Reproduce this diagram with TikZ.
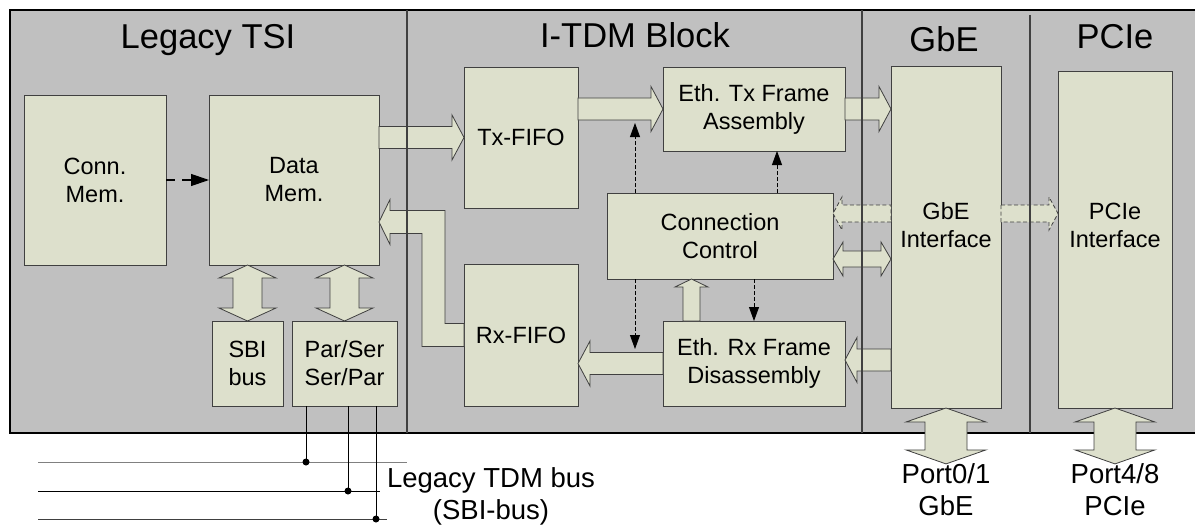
\documentclass[tikz,border=0pt]{standalone}
\usepackage{fontspec}
\setmainfont{Liberation Sans}
\usetikzlibrary{arrows.meta, calc}
\definecolor{framegray}{RGB}{192,192,192}
\definecolor{boxfill}{RGB}{221,224,204}
\definecolor{edgegray}{RGB}{64,64,64}

\begin{document}
\begin{tikzpicture}[
  x=1pt, y=-1pt,
    box/.style={
        draw=edgegray,
        fill=boxfill,
        line width=0.8pt,
        inner sep=0pt,
        outer sep=0pt,
        align=center,
        font=\fontsize{23.5}{28}\selectfont
    },
    plain/.style={
        inner sep=0pt,
        align=center,
        font=\fontsize{23.5}{28}\selectfont
    },
    title/.style={
        anchor=base,
        font=\fontsize{34.5}{40}\selectfont
    },
    port/.style={
        inner sep=0pt,
        outer sep=0pt,
        align=center,
        font=\fontsize{27.5}{32}\selectfont
    },
    divider/.style={
        draw=edgegray,
        line width=1.2pt
    },
    ctl/.style={
        -{Triangle[length=14pt, width=10pt]},
        line width=0.8pt,
        dash pattern=on 4pt off 2pt
    },
    busline/.style={
        line width=1pt
    },
    % block arrow: shaft half width, head half width, head length
    blk/.style n args={3}{
        draw=edgegray, fill=boxfill, line width=0.8pt,
        to path={let \p1=(\tikztostart), \p2=(\tikztotarget),
          \n1={veclen(\x2-\x1,\y2-\y1)}, \n2={(\x2-\x1)/\n1}, \n3={(\y2-\y1)/\n1} in
          ({\x1-#1*\n3},{\y1+#1*\n2})
          -- ({\x1+(\n1-#3)*\n2-#1*\n3},{\y1+(\n1-#3)*\n3+#1*\n2})
          -- ({\x1+(\n1-#3)*\n2-#2*\n3},{\y1+(\n1-#3)*\n3+#2*\n2})
          -- (\x2,\y2)
          -- ({\x1+(\n1-#3)*\n2+#2*\n3},{\y1+(\n1-#3)*\n3-#2*\n2})
          -- ({\x1+(\n1-#3)*\n2+#1*\n3},{\y1+(\n1-#3)*\n3-#1*\n2})
          -- ({\x1+#1*\n3},{\y1-#1*\n2}) -- cycle}
    },
    % double block arrow
    dblk/.style n args={3}{
        draw=edgegray, fill=boxfill, line width=0.8pt,
        to path={let \p1=(\tikztostart), \p2=(\tikztotarget),
          \n1={veclen(\x2-\x1,\y2-\y1)}, \n2={(\x2-\x1)/\n1}, \n3={(\y2-\y1)/\n1} in
          (\x1,\y1)
          -- ({\x1+#3*\n2-#2*\n3},{\y1+#3*\n3+#2*\n2})
          -- ({\x1+#3*\n2-#1*\n3},{\y1+#3*\n3+#1*\n2})
          -- ({\x1+(\n1-#3)*\n2-#1*\n3},{\y1+(\n1-#3)*\n3+#1*\n2})
          -- ({\x1+(\n1-#3)*\n2-#2*\n3},{\y1+(\n1-#3)*\n3+#2*\n2})
          -- (\x2,\y2)
          -- ({\x1+(\n1-#3)*\n2+#2*\n3},{\y1+(\n1-#3)*\n3-#2*\n2})
          -- ({\x1+(\n1-#3)*\n2+#1*\n3},{\y1+(\n1-#3)*\n3-#1*\n2})
          -- ({\x1+#3*\n2+#1*\n3},{\y1+#3*\n3-#1*\n2})
          -- ({\x1+#3*\n2+#2*\n3},{\y1+#3*\n3-#2*\n2}) -- cycle}
    }
]

\useasboundingbox (0,0) rectangle (1195,527);

% frame
\draw[line width=2pt, fill=framegray] (10,10) rectangle (1200,433);

\node[title] (tsititle) at (208,49) {Legacy TSI};
\node[title] (itdmtitle) at (635,48) {I-TDM Block};
\node[title] (gbetitle) at (944,52) {GbE};
\node[title] (pcietitle) at (1115,49) {PCIe};

% legacy TSI
\node[box, minimum width=142, minimum height=170] (connmem) at (95,180)
{Conn.\\Mem.};

\node[box, minimum width=170, minimum height=170] (datamem) at (294,180)
{Data\\Mem.};

\node[box, minimum width=71, minimum height=85] (sbi) at (247.5,363.5)
{SBI\\bus};

\node[box, minimum width=105, minimum height=85] (parser) at (344.5,363.5)
{Par/Ser\\Ser/Par};

% I-TDM block
\node[box, minimum width=114, minimum height=141] (txfifo) at (521,137.5)
{Tx-FIFO};

\node[box, minimum width=182, minimum height=84] (ethtx) at (754,109)
{Eth. Tx Frame\\Assembly};

\node[box, minimum width=226, minimum height=86] (connctrl) at (720,236)
{Connection\\Control};

\node[box, minimum width=114, minimum height=142] (rxfifo) at (521,335)
{Rx-FIFO};

\node[box, minimum width=182, minimum height=85] (ethrx) at (754,363.5)
{Eth. Rx Frame\\Disassembly};

% GbE / PCIe
\node[box, minimum width=110, minimum height=342] (gbe) at (946,237) {};
\node[plain] (gbetxt) at (946,225) {GbE\\Interface};

\node[box, minimum width=114, minimum height=337] (pcie) at (1115,239.5) {};
\node[plain] (pcietxt) at (1115,225) {PCIe\\Interface};

\node[port] (port01) at (946,490) {Port0/1\\GbE};
\node[port] (port48) at (1115,490) {Port4/8\\PCIe};
\node[port] (bustxt) at (491,496) {Legacy TDM bus\\(SBI-bus)};

% data path
\draw[blk={11}{22.5}{12}] (datamem.east |- txfifo.west) to (txfifo.west);
\draw[blk={11}{22.5}{12}] (txfifo.east |- ethtx.west) to (ethtx.west);
\draw[blk={11}{22.5}{12}] (ethtx.east) to (gbe.west |- ethtx.east);
\draw[blk={11}{22.5}{12}] (ethrx.west) to (rxfifo.east |- ethrx.west);
\draw[blk={11}{22.5}{12}] (gbe.west |- 0,360) to (ethrx.east |- 0,360);
\draw[blk={8.5}{16.5}{8}] (691.5,0 |- ethrx.north) to (691.5,0 |- connctrl.south);
\draw[dblk={8}{17}{10}] (connctrl.east |- 0,259) to (gbe.west |- 0,259);
\draw[blk={8.5}{16.5}{9}, dash pattern=on 4pt off 2.5pt] (gbe.west |- 0,213.5) to (connctrl.east |- 0,213.5);
\draw[blk={8.5}{16.5}{9}, dash pattern=on 4pt off 2.5pt] (gbe.east |- 0,213.5) to (pcie.west |- 0,213.5);

\draw[draw=edgegray, fill=boxfill, line width=0.8pt]
  ($(rxfifo.west)+(0,-11.5)$) -| (445,210.5) -- (390,210.5) -- (390,199.5)
  -- (datamem.east |- 0,222) -- (390,244.5) -- (390,233.5) -- (422,233.5)
  |- ($(rxfifo.west)+(0,11.5)$) -- cycle;

\draw[dblk={14.5}{28.5}{13}] (sbi.north) to (datamem.south -| sbi.north);
\draw[dblk={14.5}{28.5}{13}] (parser.north) to (datamem.south -| parser.north);
\draw[dblk={21}{40}{14}] (gbe.south) to (port01.north);
\draw[dblk={21}{40}{14}] (pcie.south) to (port48.north);

% control
\coordinate (txtap) at (635,123);
\coordinate (rxtap) at (635,349);
\draw[ctl] (txtap |- connctrl.north) -- (txtap);
\draw[ctl] (777,0 |- connctrl.north) -- (777,0 |- ethtx.south);
\draw[ctl] (rxtap |- connctrl.south) -- (rxtap);
\draw[ctl] (ethrx.north |- connctrl.south) -- (ethrx.north);
\draw[ctl, line width=1.2pt, dash pattern=on 9pt off 7pt,
  -{Triangle[length=18pt, width=12pt]}] (connmem.east) -- (datamem.west);

\draw[divider] (407,10) -- (407,433);
\draw[divider] (862,10) -- (862,433);
\draw[divider] (1030,15) -- (1030,433);

% TDM bus
\coordinate (bus1w) at (38,462);
\coordinate (bus1e) at (407,462);
\coordinate (bus2w) at (38,491);
\coordinate (bus2e) at (380,491);
\coordinate (bus3w) at (38,519);
\coordinate (bus3e) at (387,519);
\draw[busline, draw=gray] (bus1w) -- (bus1e);
\draw[busline] (bus2w) -- (bus2e);
\draw[busline, draw=darkgray] (bus3w) -- (bus3e);
\draw[busline] (306,0 |- parser.south) -- (306,0 |- bus1w);
\draw[busline] (348,0 |- parser.south) -- (348,0 |- bus2w);
\draw[busline] (376,0 |- parser.south) -- (376,0 |- bus3w);
\fill (306,0 |- bus1w) circle (3.5);
\fill (348,0 |- bus2w) circle (3.5);
\fill (376,0 |- bus3w) circle (3.5);

\end{tikzpicture}
\end{document}
